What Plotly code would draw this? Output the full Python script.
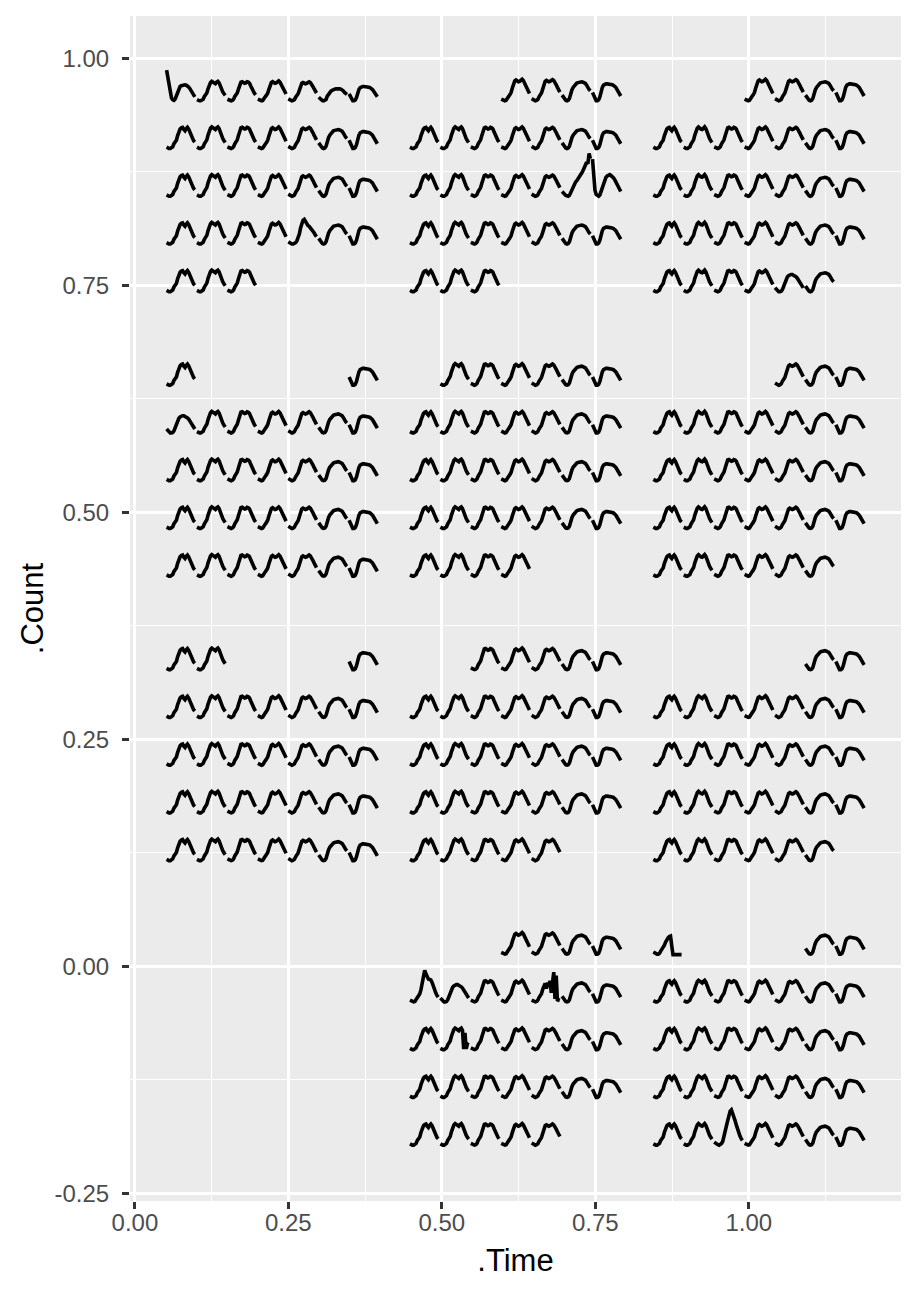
import datetime as dt
import plotly.graph_objects as go

# ---------------------------------------------------------------- data ----
YEAR = 2018
HOURS = list(range(24))

# Hourly pedestrian counts, in % of the busiest hour of the year
MON = [4, 2, 1, 1, 2, 5, 12, 15, 20, 31, 42, 46, 49, 50, 45, 42, 47, 50, 46, 38, 30, 24, 19, 16]
TUE = [4, 2, 1, 1, 2, 5, 12, 16, 21, 32, 43, 48, 51, 48, 46, 45, 49, 51, 47, 38, 30, 24, 19, 15]
WED = [5, 3, 1, 1, 2, 5, 12, 16, 21, 31, 43, 49, 50, 47, 46, 47, 50, 49, 46, 39, 31, 25, 20, 16]
THU = [5, 3, 2, 1, 2, 5, 11, 15, 20, 30, 41, 47, 49, 47, 45, 46, 49, 51, 48, 42, 35, 28, 22, 18]
FRI = [6, 4, 2, 1, 2, 4, 10, 14, 19, 28, 39, 46, 48, 46, 45, 46, 49, 50, 48, 44, 38, 32, 26, 21]
SAT = [14, 9, 5, 2, 1, 2, 6, 18, 26, 32, 36, 39, 42, 43, 44, 45, 45, 44, 43, 41, 37, 31, 27, 24]
SUN = [20, 12, 5, 1, 1, 3, 10, 24, 32, 37, 39, 40, 40, 40, 40, 39, 38, 37, 35, 32, 27, 22, 17, 12]
HOLIDAY = [10, 6, 3, 1, 1, 2, 6, 14, 22, 30, 35, 38, 40, 41, 41, 40, 38, 36, 33, 29, 24, 19, 14, 10]

NEW_YEAR = [72, 55, 36, 18, 7, 3, 2, 5, 12, 22, 30, 34, 36, 37, 37, 38, 37, 36, 33, 29, 24, 19, 14, 10]
AUS_DAY = [6, 4, 2, 1, 1, 2, 4, 8, 14, 24, 38, 49, 56, 58, 52, 47, 44, 42, 39, 35, 31, 27, 22, 18]
WHITE_NIGHT_SAT = [12, 8, 5, 3, 2, 1, 3, 10, 18, 24, 30, 34, 37, 41, 44, 48, 55, 60, 66, 72, 80, 76, 100, 88]
WHITE_NIGHT_SUN = [87, 42, 15, 5, 2, 1, 4, 12, 22, 32, 40, 45, 48, 50, 51, 49, 47, 44, 40, 35, 30, 24, 18, 12]
NOV_05 = [5, 3, 2, 1, 2, 5, 11, 15, 20, 30, 44, 60, 74, 66, 58, 54, 53, 52, 46, 36, 28, 22, 16, 12]
NOV_09 = [5, 3, 2, 1, 2, 5, 11, 15, 20, 30, 38, 44, 32, 46, 36, 50, 22, 52, 70, 8, 62, 3, 6, 5]
NOV_13 = [4, 2, 1, 1, 2, 5, 12, 16, 21, 32, 43, 48, 51, 48, 46, 45, 49, 51, 46, 2, 40, 3, 14, 12]
BOXING_DAY = [8, 5, 3, 2, 1, 2, 5, 10, 20, 33, 46, 58, 70, 80, 83, 76, 68, 58, 48, 38, 30, 22, 16, 12]
NYE = [6, 4, 2, 1, 1, 3, 8, 12, 16, 22, 29, 35, 39, 42, 43, 20, 0, 0, 0, 0, 0, 0, 0, 0]

WEEK_PROFILES = [MON, TUE, WED, THU, FRI, SAT, SUN]
SPECIAL_DAYS = {
    "2018-01-01": NEW_YEAR,
    "2018-01-26": AUS_DAY,
    "2018-02-17": WHITE_NIGHT_SAT,
    "2018-02-18": WHITE_NIGHT_SUN,
    "2018-11-05": NOV_05,
    "2018-11-09": NOV_09,
    "2018-11-13": NOV_13,
    "2018-12-26": BOXING_DAY,
    "2018-12-31": NYE,
}
HOLIDAYS = ["2018-03-30", "2018-04-02", "2018-11-06"]
DAY_SCALE = {"2018-01-02": 0.9, "2018-01-03": 0.9, "2018-01-04": 0.92,
             "2018-01-05": 0.9, "2018-01-06": 0.65, "2018-01-07": 0.85}
MISSING_FROM = "2018-09-30"
MISSING_TO = "2018-10-31"

X_TICKS = [0.0, 0.25, 0.5, 0.75, 1.0]
X_TICK_TEXT = ["0.00", "0.25", "0.50", "0.75", "1.00"]
Y_TICKS = [-0.25, 0.0, 0.25, 0.5, 0.75, 1.0]
Y_TICK_TEXT = ["-0.25", "0.00", "0.25", "0.50", "0.75", "1.00"]
X_MINOR = [0.125, 0.375, 0.625, 0.875, 1.125]
Y_MINOR = [-0.125, 0.125, 0.375, 0.625, 0.875]

# ------------------------------------------------ calendar layout ------
CELL = 0.04956          # width of one day cell in .Time units
X_ORIGIN = 0.0516       # left edge of first cell
GLYPH_W = 0.046         # span of hours 0..23 inside a cell
ROW_STEP = 0.05259      # height of one week row in .Count units
MONTH_STEP = 0.3133     # vertical distance between month rows
Y_TOP = 0.9528          # baseline of first week row
GLYPH_H = 0.0475        # height of 100 %

miss_a = dt.date.fromisoformat(MISSING_FROM)
miss_b = dt.date.fromisoformat(MISSING_TO)

xs, ys = [], []
day = dt.date(YEAR, 1, 1)
while day.year == YEAR:
    iso = day.isoformat()
    if not (miss_a <= day <= miss_b):
        if iso in SPECIAL_DAYS:
            prof = SPECIAL_DAYS[iso]
        elif iso in HOLIDAYS:
            prof = HOLIDAY
        else:
            prof = WEEK_PROFILES[day.weekday()]
        k = DAY_SCALE.get(iso, 1.0)
        m = day.month - 1
        mrow, mcol = divmod(m, 3)
        off = day.replace(day=1).weekday()
        w = (day.day - 1 + off) // 7
        if w == 5:
            w = 0
        d = day.weekday()
        x0 = X_ORIGIN + (mcol * 8 + d) * CELL
        y0 = Y_TOP - mrow * MONTH_STEP - w * ROW_STEP
        for h, v in zip(HOURS, prof):
            xs.append(x0 + h / 23 * GLYPH_W)
            ys.append(y0 + v * k / 100 * GLYPH_H)
        xs.append(None)
        ys.append(None)
    day += dt.timedelta(days=1)

fig = go.Figure(go.Scatter(x=xs, y=ys, mode="lines",
                           line=dict(color="black", width=3.6),
                           connectgaps=False, hoverinfo="skip"))

FONT = "Liberation Sans, Arial, Helvetica, sans-serif"
axis_common = dict(
    showline=False, zeroline=False, showgrid=True,
    gridcolor="white", gridwidth=2.7,
    ticks="outside", ticklen=7, tickwidth=2.7, tickcolor="#333333",
    tickfont=dict(family=FONT, size=24, color="#4D4D4D"),
    tickmode="array",
)
fig.update_xaxes(
    **axis_common, range=[-0.008, 1.248], tickvals=X_TICKS, ticktext=X_TICK_TEXT,
    minor=dict(tickmode="array", tickvals=X_MINOR, showgrid=True,
               gridcolor="white", gridwidth=1.35, ticks=""),
    title=dict(text=".Time", font=dict(family=FONT, size=31, color="black"), standoff=14),
    ticklabelstandoff=-7,
)
fig.update_yaxes(
    **axis_common, range=[-0.2585, 1.0466], tickvals=Y_TICKS, ticktext=Y_TICK_TEXT,
    minor=dict(tickmode="array", tickvals=Y_MINOR, showgrid=True,
               gridcolor="white", gridwidth=1.35, ticks=""),
    title=dict(text=".Count", font=dict(family=FONT, size=31, color="black"), standoff=1),
    ticklabelstandoff=8,
)
fig.update_layout(
    width=918, height=1296,
    margin=dict(l=130, r=17, t=16, b=95),
    plot_bgcolor="#EBEBEB", paper_bgcolor="white",
    showlegend=False,
)
fig.write_html("out.html")
